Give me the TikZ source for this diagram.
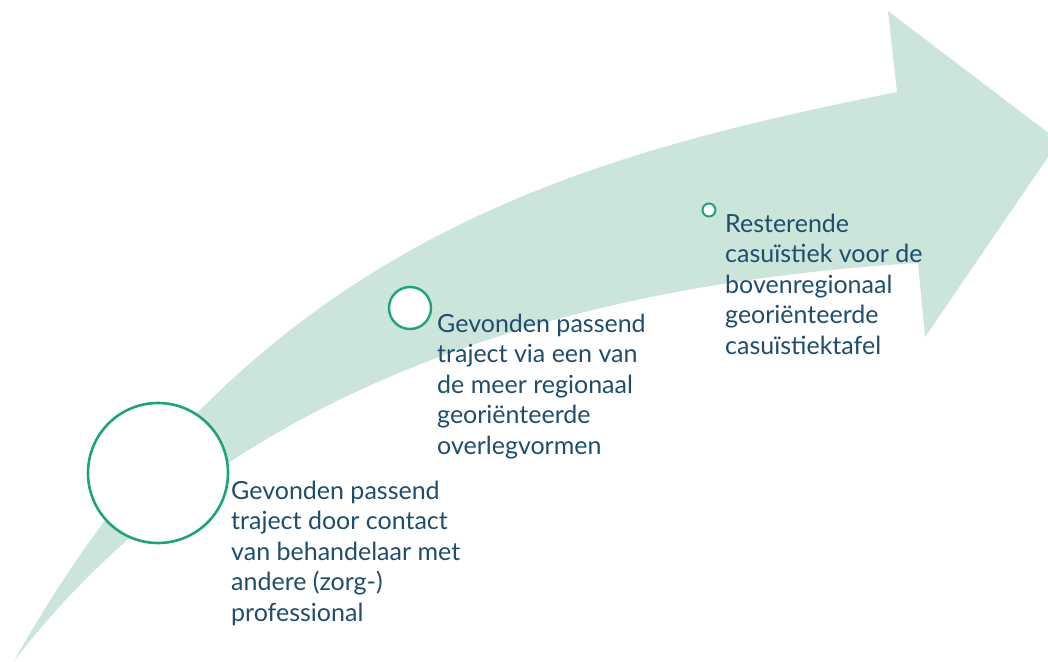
\documentclass[tikz,border=0pt]{standalone}
\usepackage{fontspec}
\setmainfont{Lato}

\definecolor{bandgreen}{HTML}{CCE5DA}
\definecolor{ringgreen}{HTML}{1FA37A}
\definecolor{textblue}{HTML}{1F4D6B}

\tikzset{
  stagering/.style={circle,draw=ringgreen,fill=white,inner sep=0pt},
  stagetext/.style={anchor=base west,align=left,inner sep=0pt,text=textblue,
    font=\fontsize{25}{30.5}\selectfont}
}

\begin{document}
\begin{tikzpicture}[x=1pt,y=-1pt]
      \clip (0,0) rectangle (1048,661);

      % curved arrow
      \fill[bandgreen] (14,661) .. controls (215,400) and (539,286) .. (918,263)
        -- (925,337) -- (1059,141) -- (888,11) -- (897,92)
        .. controls (574,157) and (249,242) .. (14,661) -- cycle;

      \node[stagering,line width=2.6pt,minimum size=140pt] (ringa) at (158,473) {};
      \node[stagering,line width=2.4pt,minimum size=42pt] (ringb) at (410,308) {};
      \node[stagering,line width=2pt,minimum size=13pt] (ringc) at (709,210) {};

      % base west sits on the last line
      \node[stagetext] (texta) at (231,621) {Gevonden passend\\traject door contact\\van behandelaar met\\andere (zorg-)\\professional};
      \node[stagetext] (textb) at (437,454) {Gevonden passend\\traject via een van\\de meer regionaal\\georiënteerde\\overlegvormen};
      \node[stagetext] (textc) at (725,354) {Resterende\\casuïstiek voor de\\bovenregionaal\\georiënteerde\\casuïstiektafel};
    \end{tikzpicture}
\end{document}
